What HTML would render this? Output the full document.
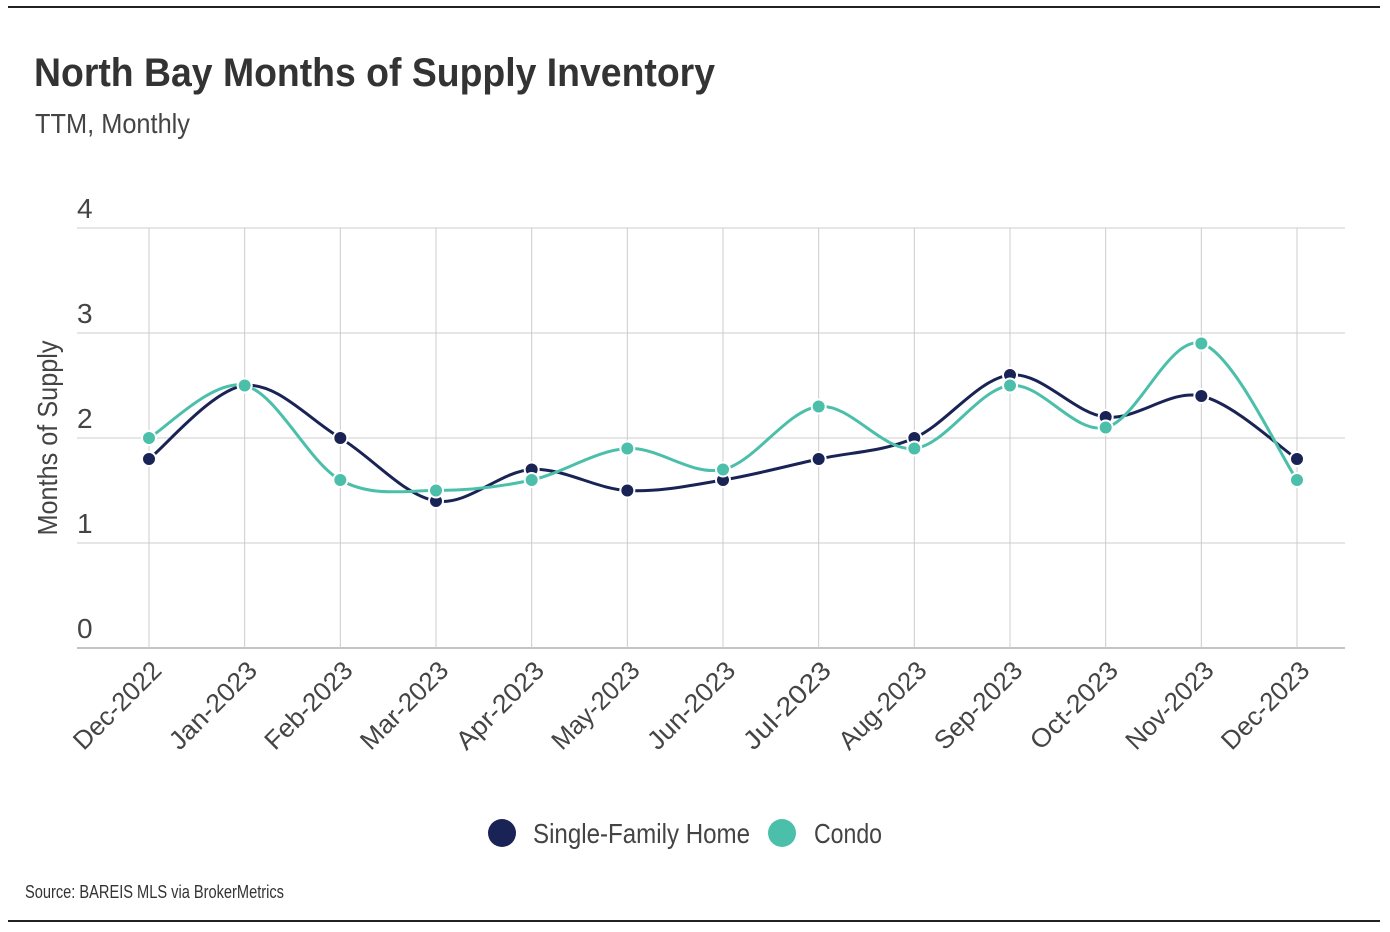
<!DOCTYPE html>
<html><head><meta charset="utf-8">
<style>
body{margin:0;background:#fff;}
svg{display:block;font-family:"Liberation Sans Narrow","Liberation Sans",sans-serif;}
</style></head>
<body>
<svg id="chart" width="1390" height="932" viewBox="0 0 1390 932">
<line x1="8" y1="7" x2="1380" y2="7" stroke="#222" stroke-width="2"/>
<line x1="8" y1="921" x2="1380" y2="921" stroke="#222" stroke-width="2"/>
<text x="34" y="86" font-size="40" font-weight="bold" fill="#333" textLength="681" lengthAdjust="spacingAndGlyphs">North Bay Months of Supply Inventory</text>
<text x="35" y="133" font-size="28" fill="#444" textLength="155" lengthAdjust="spacingAndGlyphs">TTM, Monthly</text>
<text transform="translate(57,438) rotate(-90)" text-anchor="middle" font-size="28" fill="#444" textLength="195" lengthAdjust="spacingAndGlyphs">Months of Supply</text>
<g id="grid"></g><g id="lines"></g><g id="points"></g>
<g>
<circle cx="502" cy="833" r="14" fill="#1a2355"/>
<text x="533" y="843" font-size="28" fill="#444" textLength="217" lengthAdjust="spacingAndGlyphs">Single-Family Home</text>
<circle cx="782" cy="833" r="14" fill="#4cbfaa"/>
<text x="814" y="843" font-size="28" fill="#444" textLength="68" lengthAdjust="spacingAndGlyphs">Condo</text>
</g>
<text x="25" y="898" font-size="18" fill="#333" textLength="259" lengthAdjust="spacingAndGlyphs">Source:  BAREIS MLS via BrokerMetrics</text>
</svg>
<script>
const categories=["Dec-2022","Jan-2023","Feb-2023","Mar-2023","Apr-2023","May-2023","Jun-2023","Jul-2023","Aug-2023","Sep-2023","Oct-2023","Nov-2023","Dec-2023"];
const sfhValues=[1.8,2.5,2.0,1.4,1.7,1.5,1.6,1.8,2.0,2.6,2.2,2.4,1.8];
const condoValues=[2.0,2.5,1.6,1.5,1.6,1.9,1.7,2.3,1.9,2.5,2.1,2.9,1.6];
const yTicks=[0,1,2,3,4];
const NS="http://www.w3.org/2000/svg";
const x0=149,x1=1297,yb=648,yt=228,ymax=4;
function xs(i){return x0+(x1-x0)*i/(categories.length-1);}
function ys(v){return yb-(yb-yt)*v/ymax;}
function mk(tag,attrs,parent){const e=document.createElementNS(NS,tag);for(const k in attrs)e.setAttribute(k,attrs[k]);parent.appendChild(e);return e;}
const grid=document.getElementById('grid'),lines=document.getElementById('lines'),pts=document.getElementById('points');
yTicks.forEach(t=>{
  const l=mk('line',{x1:77,x2:1345,y1:ys(t),y2:ys(t),stroke:t===0?'#888':'#ccc','stroke-width':1},grid);
  
  
  const tx=mk('text',{x:77,y:ys(t)-10,'font-size':28,fill:'#444'},grid);
  tx.textContent=t;
  
  
});
categories.forEach((c,i)=>{
  const l=mk('line',{x1:xs(i),x2:xs(i),y1:yt,y2:yb,stroke:'#ccc','stroke-width':1},grid);
  
  
  const tx=mk('text',{transform:`translate(${xs(i)+14},${yb+24}) rotate(-45)`,'text-anchor':'end','font-size':26,fill:'#444',textLength:112,lengthAdjust:'spacingAndGlyphs'},grid);
  tx.textContent=c;
  
  
});
function pathFor(vals){
  const p=vals.map((v,i)=>[xs(i),ys(v)]);
  let d=`M${p[0][0]},${p[0][1]}`;
  for(let i=0;i<p.length-1;i++){
    const a=p[i-1]||p[i],b=p[i],c=p[i+1],e=p[i+2]||c;
    const k=1/6;
    d+=` C${b[0]+(c[0]-a[0])*k},${b[1]+(c[1]-a[1])*k} ${c[0]-(e[0]-b[0])*k},${c[1]-(e[1]-b[1])*k} ${c[0]},${c[1]}`;
  }
  return d;
}
[[sfhValues,'#1a2355','sfh'],[condoValues,'#4cbfaa','condo']].forEach(([vals,col,n])=>{
  const pth=mk('path',{d:pathFor(vals),fill:'none',stroke:col,'stroke-width':3},lines);
  
  
  vals.forEach((v,i)=>{
    const c=mk('circle',{cx:xs(i),cy:ys(v),r:7,fill:col,stroke:'#fff','stroke-width':2},pts);
    
    
  });
});
</script>
</body></html>
